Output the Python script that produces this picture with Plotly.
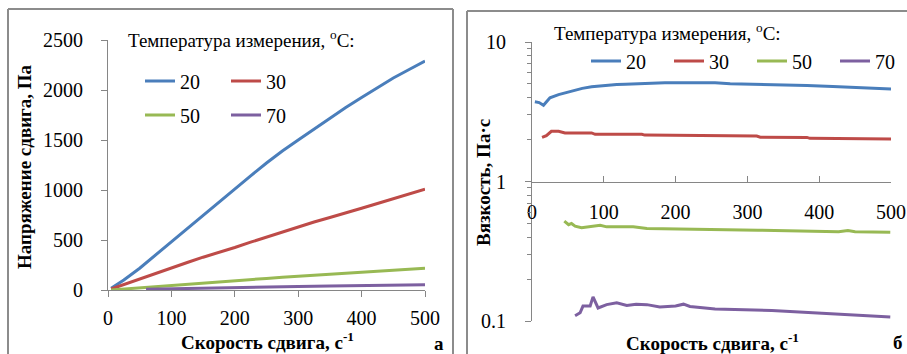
import plotly.graph_objects as go

W, H = 907, 354

# ---------------- data ----------------
series_names = ["20", "30", "50", "70"]
colors = ["#4A7EBB", "#BE4B48", "#98B954", "#7D60A0"]

# panel a: shear stress (Pa) vs shear rate (1/s)
rate_a = [5, 25, 50, 75, 100, 125, 150, 175, 200, 225, 250, 275, 300, 325, 350, 375, 400, 425, 450, 475, 500]
stress_20 = [18, 100, 218, 350, 485, 620, 755, 885, 1012, 1142, 1270, 1390, 1500, 1610, 1720, 1825, 1925, 2025, 2120, 2205, 2290]
stress_30 = [10, 55, 112, 167, 220, 275, 328, 375, 425, 478, 530, 582, 630, 680, 725, 775, 818, 865, 912, 960, 1007]
stress_50 = [0, 10, 23, 36, 48, 60, 71, 83, 94, 106, 116, 127, 137, 148, 158, 168, 178, 188, 198, 208, 218]
rate_a_70 = [60, 100, 150, 200, 250, 300, 350, 400, 450, 500]
stress_70 = [7, 13, 19, 25, 31, 36, 41, 45, 49, 53]

# panel б: viscosity (Pa·s) vs shear rate (1/s)
rate_b_20 = [4, 10, 16, 25, 37, 50, 60, 70, 83, 95, 106, 118, 130, 153, 185, 220, 255, 276, 300, 336, 360, 383, 419, 452, 480, 500]
visc_20 = [3.73, 3.68, 3.52, 3.98, 4.2, 4.38, 4.52, 4.65, 4.77, 4.85, 4.9, 4.95, 4.98, 5.04, 5.1, 5.1, 5.1, 5.02, 5.0, 4.96, 4.93, 4.88, 4.8, 4.72, 4.64, 4.6]
rate_b_30 = [14, 20, 27, 37, 46, 83, 88, 153, 157, 241, 248, 313, 318, 383, 387, 452, 500]
visc_30 = [2.07, 2.13, 2.29, 2.29, 2.23, 2.23, 2.18, 2.18, 2.15, 2.13, 2.12, 2.12, 2.08, 2.07, 2.04, 2.02, 2.02]
rate_b_50 = [45, 51, 55, 60, 69, 81, 95, 104, 141, 160, 243, 255, 315, 427, 440, 450, 499]
visc_50 = [0.52, 0.49, 0.5, 0.478, 0.466, 0.473, 0.486, 0.473, 0.473, 0.46, 0.455, 0.455, 0.448, 0.437, 0.445, 0.437, 0.433]
rate_b_70 = [60, 67, 71, 81, 85, 92, 104, 118, 132, 145, 160, 178, 200, 211, 220, 243, 255, 334, 394, 459, 499]
visc_70 = [0.109, 0.1145, 0.128, 0.128, 0.149, 0.124, 0.131, 0.135, 0.129, 0.132, 0.131, 0.126, 0.128, 0.132, 0.127, 0.123, 0.122, 0.119, 0.1145, 0.111, 0.107]

x_ticks = [0, 100, 200, 300, 400, 500]
y_ticks_a = [0, 500, 1000, 1500, 2000, 2500]
y_ticks_b = [0.1, 1, 10]
y_ticktext_b = ["0.1", "1", "10"]
y_minor_b = [0.2, 0.3, 0.4, 0.5, 0.6, 0.7, 0.8, 0.9, 2, 3, 4, 5, 6, 7, 8, 9]

legend_title = "Температура измерения, <sup>o</sup>С:"
xtitle = "<b>Скорость сдвига, с<sup>-1</sup></b>"
ytitle_a = "<b>Напряжение сдвига, Па</b>"
ytitle_b = "<b>Вязкость, Па·с</b>"

# ---------------- helpers ----------------
def px(x):
    return x / W

def py(y):
    return 1 - y / H

FONT = "Times New Roman, Liberation Serif, serif"
AX = "#868686"

fig = go.Figure()

a_data = [(rate_a, stress_20), (rate_a, stress_30), (rate_a, stress_50), (rate_a_70, stress_70)]
a_leg = ["legend", "legend", "legend2", "legend2"]
for (xs, ys), name, c, lg in zip(a_data, series_names, colors, a_leg):
    fig.add_trace(go.Scatter(x=xs, y=ys, mode="lines", name=name,
                             line=dict(color=c, width=3), xaxis="x", yaxis="y",
                             legend=lg))

b_data = [(rate_b_20, visc_20), (rate_b_30, visc_30), (rate_b_50, visc_50), (rate_b_70, visc_70)]
for (xs, ys), name, c in zip(b_data, series_names, colors):
    fig.add_trace(go.Scatter(x=xs, y=ys, mode="lines", name=name,
                             line=dict(color=c, width=3), xaxis="x2", yaxis="y2",
                             legend="legend3"))

tickfont = dict(family=FONT, size=20, color="black")
common = dict(showgrid=False, zeroline=False, showline=True, linecolor=AX, linewidth=1,
              tickcolor=AX, ticklen=6, tickwidth=1, tickfont=tickfont, automargin=False)

leg_common = dict(orientation="h", font=dict(family=FONT, size=20, color="black"),
                  bgcolor="rgba(0,0,0,0)", borderwidth=0, itemclick=False,
                  yanchor="middle", xanchor="left", tracegroupgap=0,
                  entrywidth=41, entrywidthmode="pixels", itemwidth=30)

fig.update_layout(
    width=W, height=H,
    margin=dict(l=0, r=0, t=0, b=0, autoexpand=False),
    paper_bgcolor="white", plot_bgcolor="white",
    xaxis=dict(domain=[px(108), px(425)], range=[0, 500], tickvals=x_ticks, ticks="outside",
               anchor="y", ticklabelstandoff=4, **common),
    yaxis=dict(domain=[py(290), py(40)], range=[0, 2500], tickvals=y_ticks_a, ticks="outside",
               anchor="x", ticklabelstandoff=14, **common),
    xaxis2=dict(domain=[px(532), px(891)], range=[0, 500], tickvals=x_ticks, ticks="inside",
                anchor="free", position=py(182), ticklabelstandoff=12, **common),
    yaxis2=dict(domain=[py(321), py(42)], type="log", range=[-1, 1], tickvals=y_ticks_b,
                ticktext=y_ticktext_b, ticks="outside", anchor="x2", ticklabelstandoff=15,
                minor=dict(tickvals=y_minor_b, ticks="outside", ticklen=4, tickcolor=AX, showgrid=False),
                **common),
    legend=dict(x=px(140), y=py(81), **leg_common),
    legend2=dict(x=px(140), y=py(115), **leg_common),
    legend3=dict(x=px(586), y=py(61), **dict(leg_common, entrywidth=38)),
    showlegend=True,
)

BORDER = dict(color="#8C8C8C", width=2)
def seg(x0, y0, x1, y1):
    return dict(type="line", xref="paper", yref="paper", x0=px(x0), y0=py(y0),
                x1=px(x1), y1=py(y1), line=BORDER, layer="below")

shapes = [
    seg(8, 9, 453, 9), seg(8, 9, 8, 354), seg(453, 9, 453, 354),
    seg(467, 11, 907, 11), seg(467, 11, 467, 354),
]
fig.update_layout(shapes=shapes)

def ann(text, x, y, size=20, angle=0, xanchor="center"):
    return dict(text=text, x=px(x), y=py(y), xref="paper", yref="paper", showarrow=False,
                xanchor=xanchor, yanchor="middle", textangle=angle,
                font=dict(family=FONT, size=size, color="black"))

fig.update_layout(annotations=[
    ann(legend_title, 241.5, 39, size=19),
    ann(legend_title, 667.5, 32, size=19),
    ann(xtitle, 267, 341, size=19),
    ann(xtitle, 712, 342, size=19),
    ann(ytitle_a, 25, 167, size=19, angle=-90),
    ann(ytitle_b, 483, 182, size=19, angle=-90),
    ann("<b>а</b>", 439, 343, size=19),
    ann("<b>б</b>", 898, 342, size=19),
])

fig.write_html("out.html")
